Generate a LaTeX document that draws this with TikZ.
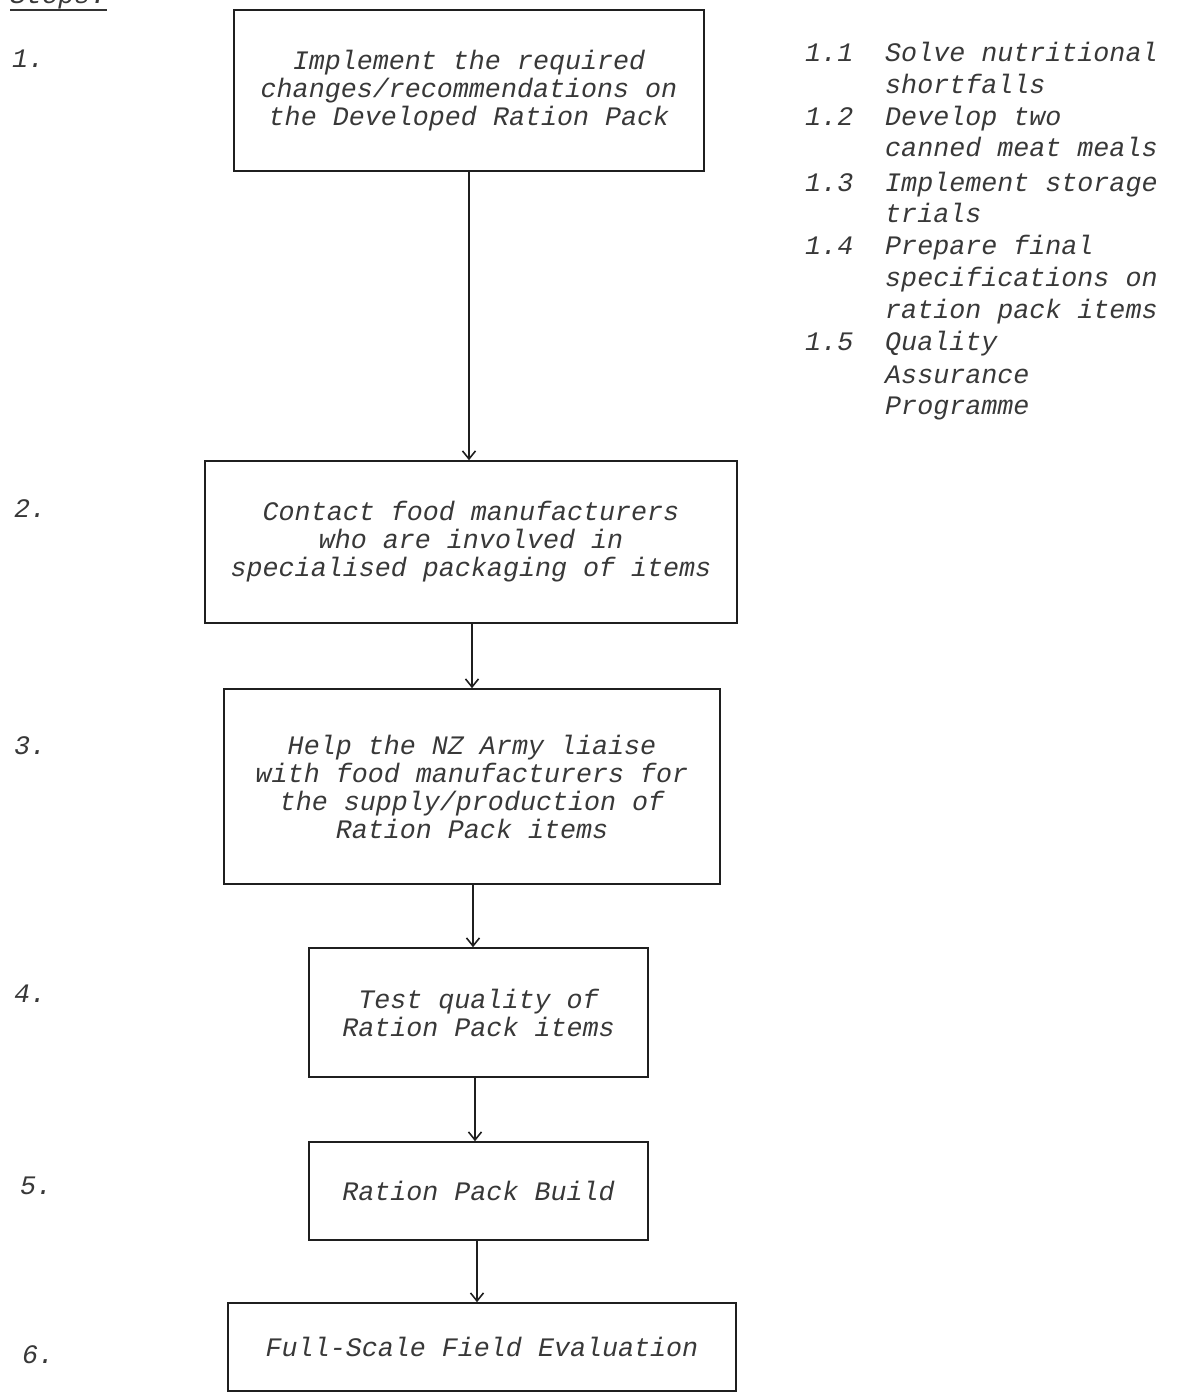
\documentclass[tikz,border=0pt]{standalone}
\usepackage{fontspec}
\setmonofont{Liberation Mono}
\usetikzlibrary{arrows.meta}
\begin{document}
\begin{tikzpicture}[x=1pt,y=-1pt,
  tw/.style={font=\ttfamily\itshape\fontsize{26.7}{28}\selectfont, text=black!78},
  stepbox/.style={draw=black!88, line width=1.6pt, rectangle, inner sep=0pt, align=center, tw},
  lbl/.style={tw, anchor=base west, inner sep=0pt},
  arr/.style={draw=black!88, line width=1.8pt, -{Straight Barb[length=8pt,width=13pt,line width=1.6pt]}}
]
\useasboundingbox (0,0) rectangle (1179,1394);

% header
\node[lbl] (steps) at (10,4) {Steps:};
\draw[line width=1.4pt, black!80] ([yshift=-6pt]steps.base west) -- ([yshift=-6pt]steps.base east);

% step numbers
\node[lbl] (n1) at (12,68) {1.};
\node[lbl] (n2) at (14,517) {2.};
\node[lbl] (n3) at (14,754) {3.};
\node[lbl] (n4) at (14,1002) {4.};
\node[lbl] (n5) at (20,1194) {5.};
\node[lbl] (n6) at (22,1363) {6.};

% boxes
\node[stepbox, minimum width=470pt, minimum height=161pt] (b1) at (469,90.5)
  {Implement the required\\changes/recommendations on\\the Developed Ration Pack};
\node[stepbox, minimum width=532pt, minimum height=162pt] (b2) at (471,542)
  {Contact food manufacturers\\who are involved in\\specialised packaging of items};
\node[stepbox, minimum width=496pt, minimum height=195pt] (b3) at (472,786.5)
  {Help the NZ Army liaise\\with food manufacturers for\\the supply/production of\\Ration Pack items};
\node[stepbox, minimum width=339pt, minimum height=129pt] (b4) at (478.5,1012.5)
  {Test quality of\\Ration Pack items};
\node[stepbox, minimum width=339pt, minimum height=98pt] (b5) at (478.5,1191)
  {Ration Pack Build};
\node[stepbox, minimum width=508pt, minimum height=88pt] (b6) at (482,1347)
  {Full-Scale Field Evaluation};

% arrow columns
\coordinate (ax1) at (469,0);
\coordinate (ax2) at (472,0);
\coordinate (ax3) at (473,0);
\coordinate (ax4) at (475,0);
\coordinate (ax5) at (477,0);
\draw[arr] (b1.south -| ax1) -- (b2.north -| ax1);
\draw[arr] (b2.south -| ax2) -- (b3.north -| ax2);
\draw[arr] (b3.south -| ax3) -- (b4.north -| ax3);
\draw[arr] (b4.south -| ax4) -- (b5.north -| ax4);
\draw[arr] (b5.south -| ax5) -- (b6.north -| ax5);

% sub-steps list
\node[lbl] (s11) at (805,62) {1.1};
\node[lbl] (t11a) at (885,62) {Solve nutritional};
\node[lbl] (t11b) at (885,94) {shortfalls};
\node[lbl] (s12) at (805,126) {1.2};
\node[lbl] (t12a) at (885,126) {Develop two};
\node[lbl] (t12b) at (885,157) {canned meat meals};
\node[lbl] (s13) at (805,191) {1.3};
\node[lbl] (t13a) at (885,191) {Implement storage};
\node[lbl] (t13b) at (885,222) {trials};
\node[lbl] (s14) at (805,254) {1.4};
\node[lbl] (t14a) at (885,254) {Prepare final};
\node[lbl] (t14b) at (885,286) {specifications on};
\node[lbl] (t14c) at (885,318) {ration pack items};
\node[lbl] (s15) at (805,350) {1.5};
\node[lbl] (t15a) at (885,350) {Quality};
\node[lbl] (t15b) at (885,383) {Assurance};
\node[lbl] (t15c) at (885,414) {Programme};
\end{tikzpicture}
\end{document}
